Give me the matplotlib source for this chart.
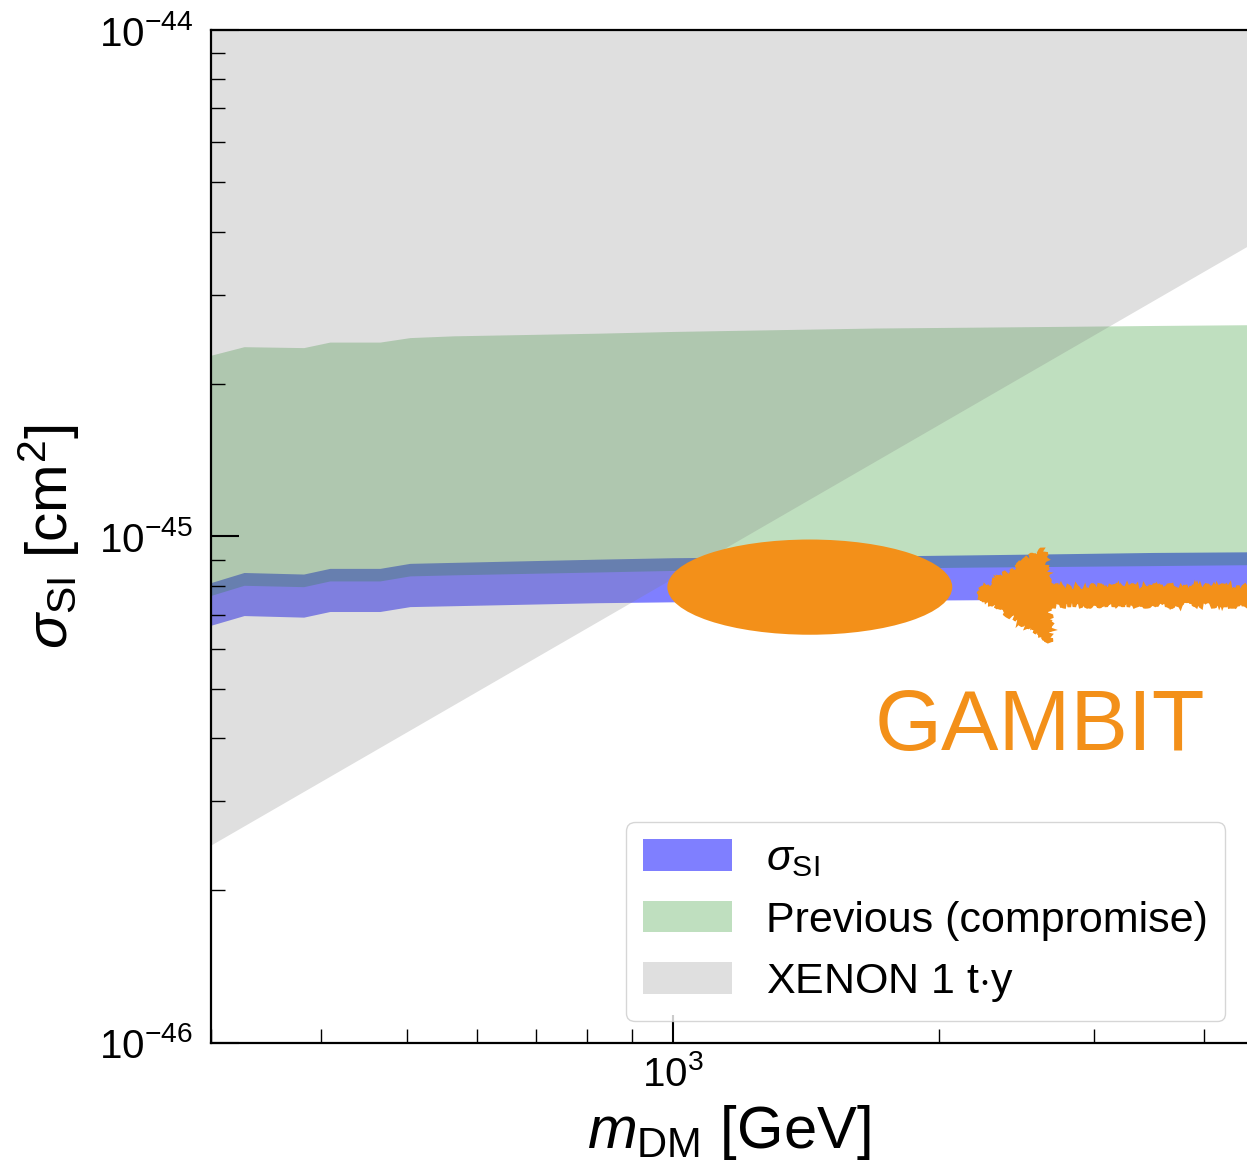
import matplotlib
matplotlib.use('Agg')
import matplotlib.pyplot as plt
from matplotlib.patches import Ellipse, Polygon
from matplotlib.ticker import NullFormatter

plt.rcParams['font.family'] = ['Liberation Sans', 'DejaVu Sans']
plt.rcParams['mathtext.fontset'] = 'custom'
plt.rcParams['mathtext.rm'] = 'Liberation Sans'
plt.rcParams['mathtext.it'] = 'Liberation Sans:italic'
plt.rcParams['mathtext.bf'] = 'Liberation Sans:bold'
plt.rcParams['mathtext.sf'] = 'Liberation Sans'

# dark matter mass grid [GeV]
mass = [300, 327, 382, 409, 466, 504, 565, 822, 1000, 1300, 1700, 2200, 2800, 3500, 4600]

# sigma_SI band [cm^2]
sigma_lo = [6.68e-46, 6.98e-46, 6.93e-46, 7.11e-46, 7.11e-46, 7.27e-46, 7.30e-46, 7.40e-46,
            7.43e-46, 7.46e-46, 7.48e-46, 7.50e-46, 7.52e-46, 7.55e-46, 7.57e-46]
sigma_hi = [8.11e-46, 8.49e-46, 8.43e-46, 8.65e-46, 8.65e-46, 8.85e-46, 8.89e-46, 9.02e-46,
            9.08e-46, 9.12e-46, 9.15e-46, 9.20e-46, 9.25e-46, 9.30e-46, 9.33e-46]

# previous (compromise) band [cm^2]
prev_lo = [7.65e-46, 8.01e-46, 7.96e-46, 8.17e-46, 8.17e-46, 8.36e-46, 8.40e-46, 8.51e-46,
           8.57e-46, 8.62e-46, 8.66e-46, 8.70e-46, 8.73e-46, 8.76e-46, 8.80e-46]
prev_hi = [2.28e-45, 2.37e-45, 2.36e-45, 2.42e-45, 2.42e-45, 2.47e-45, 2.49e-45, 2.52e-45,
           2.54e-45, 2.56e-45, 2.58e-45, 2.59e-45, 2.60e-45, 2.61e-45, 2.62e-45]

# XENON 1 t.y limit
xenon_mass = [300, 4600]
xenon_limit = [2.46e-46, 3.85e-45]

y_major = [1e-46, 1e-45, 1e-44]
x_major = [1000]

fig = plt.figure(figsize=(12.47, 11.64), dpi=100)
ax = fig.add_axes([0.1692, 0.104, 0.8308, 0.8702])

ax.fill_between(mass, sigma_lo, sigma_hi, color='blue', alpha=0.5, lw=0, label=r'$\sigma_{\rm SI}$')
ax.fill_between(mass, prev_lo, prev_hi, color='green', alpha=0.25, lw=0, label='Previous (compromise)')
ax.fill_between(xenon_mass, xenon_limit, [1e-44, 1e-44], color='grey', alpha=0.25, lw=0,
                label=r'XENON 1 t$\cdot$y')

ax.set_xscale('log')
ax.set_yscale('log')
ax.set_xticks(x_major)
ax.set_yticks(y_major)
ax.set_xlim(300, 4470)
ax.set_ylim(1e-46, 1e-44)
ax.xaxis.set_minor_formatter(NullFormatter())
ax.yaxis.set_minor_formatter(NullFormatter())

ax.tick_params(which='both', direction='in', labelsize=29)
ax.tick_params(which='major', length=20, width=1.5)
ax.tick_params(which='minor', length=10, width=1.0)
ax.tick_params(axis='y', which='major', pad=13)
ax.tick_params(axis='x', which='major', pad=9)
for side in ['left', 'bottom', 'top']:
    ax.spines[side].set_linewidth(1.6)
ax.spines['right'].set_visible(False)

ax.set_xlabel(r'$m_{\rm DM}$ [GeV]', fontsize=43, labelpad=6)
ax.set_ylabel(r'$\sigma_{\rm SI}$ [cm$^2$]', fontsize=42, labelpad=12)

orange = '#f39019'
ax.add_patch(Ellipse((0.578, 0.45), 0.275, 0.094, transform=ax.transAxes,
                     color=orange, lw=0, zorder=5))
arrow = Polygon([(0.7404, 0.4434), (0.8030, 0.4866), (0.8079, 0.4492), (1.01, 0.4492),
                 (1.01, 0.4334), (0.8079, 0.4334), (0.8100, 0.3978)],
                closed=True, transform=ax.transAxes, color=orange, lw=2.5, zorder=5,
                clip_on=False)
arrow.set_sketch_params(scale=3, length=5, randomness=40)
ax.add_patch(arrow)
ax.text(0.800, 0.289, 'GAMBIT', transform=ax.transAxes, color=orange, fontsize=62,
        ha='center', va='baseline', zorder=5)

ax.legend(loc='lower right', fontsize=31, handlelength=2.07, handleheight=0.75,
          handletextpad=0.79, labelspacing=0.5, borderpad=0.4)

fig.savefig('out.png', dpi=100)
